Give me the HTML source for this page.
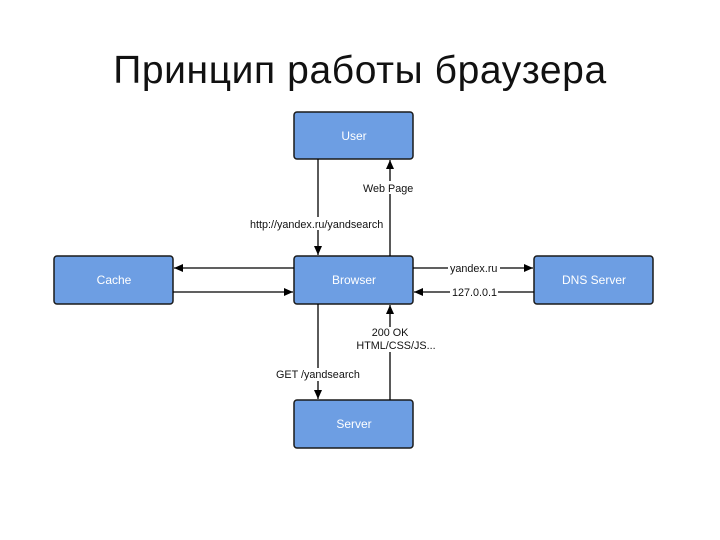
<!DOCTYPE html>
<html><head><meta charset="utf-8"><style>
html,body{margin:0;padding:0;background:#fff;width:720px;height:540px;overflow:hidden}
.t{position:absolute;left:0;width:720px;top:49px;text-align:center;font-family:"Liberation Sans","DejaVu Sans",sans-serif;font-size:39px;letter-spacing:0.6px;color:#111}
</style></head><body>
<div class="t">Принцип работы браузера</div>
<svg width="720" height="540" style="position:absolute;left:0;top:0" font-family="Liberation Sans, Arial, sans-serif">
<defs><marker id="a" markerWidth="10" markerHeight="10" refX="9" refY="5" orient="auto" markerUnits="userSpaceOnUse"><path d="M0,1 L9,5 L0,9 z" fill="#000"/></marker></defs>
<g fill="#6d9ee3" stroke="#1a1a1a" stroke-width="1.5">
<rect x="294" y="112" width="119" height="47" rx="3"/>
<rect x="294" y="256" width="119" height="48" rx="3"/>
<rect x="294" y="400" width="119" height="48" rx="3"/>
<rect x="54" y="256" width="119" height="48" rx="3"/>
<rect x="534" y="256" width="119" height="48" rx="3"/>
</g>
<g fill="#fff" font-size="12" text-anchor="middle">
<text x="354" y="140">User</text><text x="354" y="284">Browser</text><text x="354" y="428">Server</text>
<text x="114" y="284">Cache</text><text x="594" y="284">DNS Server</text>
</g>
<g stroke="#000" stroke-width="1.3" fill="none">
<line x1="318" y1="159" x2="318" y2="255" marker-end="url(#a)"/>
<line x1="390" y1="256" x2="390" y2="160" marker-end="url(#a)"/>
<line x1="318" y1="304" x2="318" y2="399" marker-end="url(#a)"/>
<line x1="390" y1="400" x2="390" y2="305" marker-end="url(#a)"/>
<line x1="294" y1="268" x2="174" y2="268" marker-end="url(#a)"/>
<line x1="173" y1="292" x2="293" y2="292" marker-end="url(#a)"/>
<line x1="413" y1="268" x2="533" y2="268" marker-end="url(#a)"/>
<line x1="534" y1="292" x2="414" y2="292" marker-end="url(#a)"/>
</g>
<g font-size="10.8" fill="#111">
<rect x="248" y="217" width="138" height="13" fill="#fff"/>
<text x="250" y="228">http://yandex.ru/yandsearch</text>
<rect x="362" y="181" width="56" height="13" fill="#fff"/>
<text x="363" y="192">Web Page</text>
<rect x="448" y="262" width="52" height="12" fill="#fff"/>
<text x="450" y="272">yandex.ru</text>
<rect x="450" y="286" width="48" height="12" fill="#fff"/>
<text x="452" y="296">127.0.0.1</text>
<rect x="348" y="327" width="96" height="25" fill="#fff"/>
<text x="390" y="336" text-anchor="middle">200 OK</text>
<text x="396" y="349" text-anchor="middle">HTML/CSS/JS...</text>
<rect x="275" y="368" width="88" height="13" fill="#fff"/>
<text x="276" y="378">GET /yandsearch</text>
</g>
</svg>
</body></html>
